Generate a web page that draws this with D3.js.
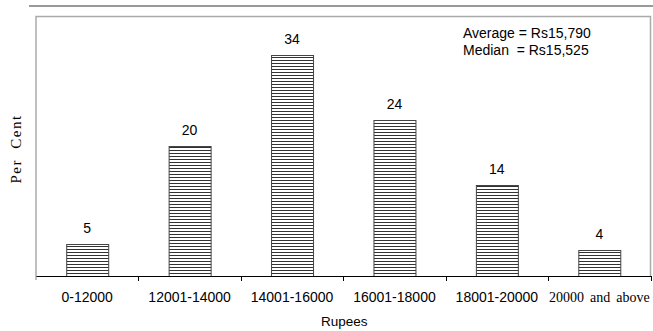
<!DOCTYPE html>
<html><head><meta charset="utf-8">
<script src="https://cdn.jsdelivr.net/npm/d3@7"></script>
<style>body{margin:0;background:#fff}svg{display:block}</style>
</head><body>
<script>
const categories = ["0-12000","12001-14000","14001-16000","16001-18000","18001-20000","20000 and above"];
const values = [5, 20, 34, 24, 14, 4];
const yDomain = [0, 40];
const notes = ["Average = Rs15,790", "Median  = Rs15,525"];
const xTitle = "Rupees";
const yTitle = "Per Cent";

const W = 653, H = 331;
const m = {left: 36, right: 2.5, top: 16.5, bottom: 55};
const svg = d3.select("body").append("svg").attr("width", W).attr("height", H);

const defs = svg.append("defs");
const pat = defs.append("pattern").attr("id","hl").attr("patternUnits","userSpaceOnUse")
  .attr("width", 6).attr("height", 3);
pat.append("rect").attr("width",6).attr("height",3).attr("fill","#fff");
pat.append("rect").attr("y",0).attr("width",6).attr("height",1).attr("fill","#333");

const x = d3.scaleBand().domain(categories).range([m.left, W - m.right]).paddingInner(0).paddingOuter(0);
const y = d3.scaleLinear().domain(yDomain).range([H - m.bottom, m.top]);

// top rule
svg.append("line").attr("x1",29).attr("x2",W).attr("y1",6).attr("y2",6)
  .attr("stroke","#777").attr("stroke-width",1.5);

// frame
svg.append("path")
  .attr("d", `M${m.left},${H-m.bottom+4}V${m.top}H${W-m.right}V${H-m.bottom}`)
  .attr("fill","none").attr("stroke","#aaa").attr("stroke-width",1.5);

// bars
const bw = x.bandwidth()*0.41;
svg.append("g").selectAll("rect").data(values).join("rect")
  .attr("x",(d,i)=>x(categories[i]) + x.bandwidth()/2 - bw/2 + 0.5)
  .attr("y",d=>Math.round(y(d))+0.5)
  .attr("width",bw)
  .attr("height",d=>y(0)-Math.round(y(d)))
  .attr("fill","url(#hl)").attr("stroke","#444").attr("stroke-width",1);

// value labels
svg.append("g").selectAll("text").data(values).join("text")
  .attr("x",(d,i)=>x(categories[i]) + x.bandwidth()/2)
  .attr("y",d=>y(d)-11)
  .attr("text-anchor","middle")
  .attr("font-family","Liberation Sans, Arial, sans-serif").attr("font-size",14)
  .attr("fill","#000").text(d=>d);

// x axis
const xAxis = d3.axisBottom(x).tickSize(0).tickFormat("");
const gx = svg.append("g").attr("transform",`translate(0,${y(0)})`).call(xAxis);
gx.select(".domain").attr("stroke","#000").attr("stroke-width",1.2);
const bounds = categories.map(c=>x(c)).slice(1).concat([W-m.right]);
svg.append("g").selectAll("line").data(bounds).join("line")
  .attr("x1",d=>Math.round(d)+0.5).attr("x2",d=>Math.round(d)+0.5)
  .attr("y1",y(0)).attr("y2",y(0)+5).attr("stroke","#000");

// category labels
const last = categories.length-1;
svg.append("g").selectAll("text").data(categories).join("text")
  .attr("x",(d,i)=> i===last ? x(d)+1 : x(d)+x.bandwidth()/2)
  .attr("y",302)
  .attr("text-anchor",(d,i)=> i===last ? "start" : "middle")
  .attr("font-family",(d,i)=> i===last ? "Liberation Serif, Times New Roman, serif" : "Liberation Sans, Arial, sans-serif")
  .attr("font-size",(d,i)=> i===last ? 14 : 14)
  .attr("word-spacing",(d,i)=> i===last ? 2.5 : 0)
  .text(d=>d);

// axis titles
svg.append("text").attr("x",(m.left+W-m.right)/2+1).attr("y",326)
  .attr("text-anchor","middle").attr("font-family","Liberation Sans, Arial, sans-serif")
  .attr("font-size",13.5).text(xTitle);
svg.append("text").attr("transform","translate(21,149) rotate(-90)")
  .attr("text-anchor","middle").attr("font-family","Liberation Serif, Times New Roman, serif")
  .attr("font-size",15).attr("letter-spacing",1.5).attr("word-spacing",5).text(yTitle);

// notes
svg.append("g").selectAll("text").data(notes).join("text")
  .attr("x",463).attr("y",(d,i)=>38+i*17)
  .attr("font-family","Liberation Sans, Arial, sans-serif").attr("font-size",14)
  .style("white-space","pre").text(d=>d);
</script>
</body></html>
